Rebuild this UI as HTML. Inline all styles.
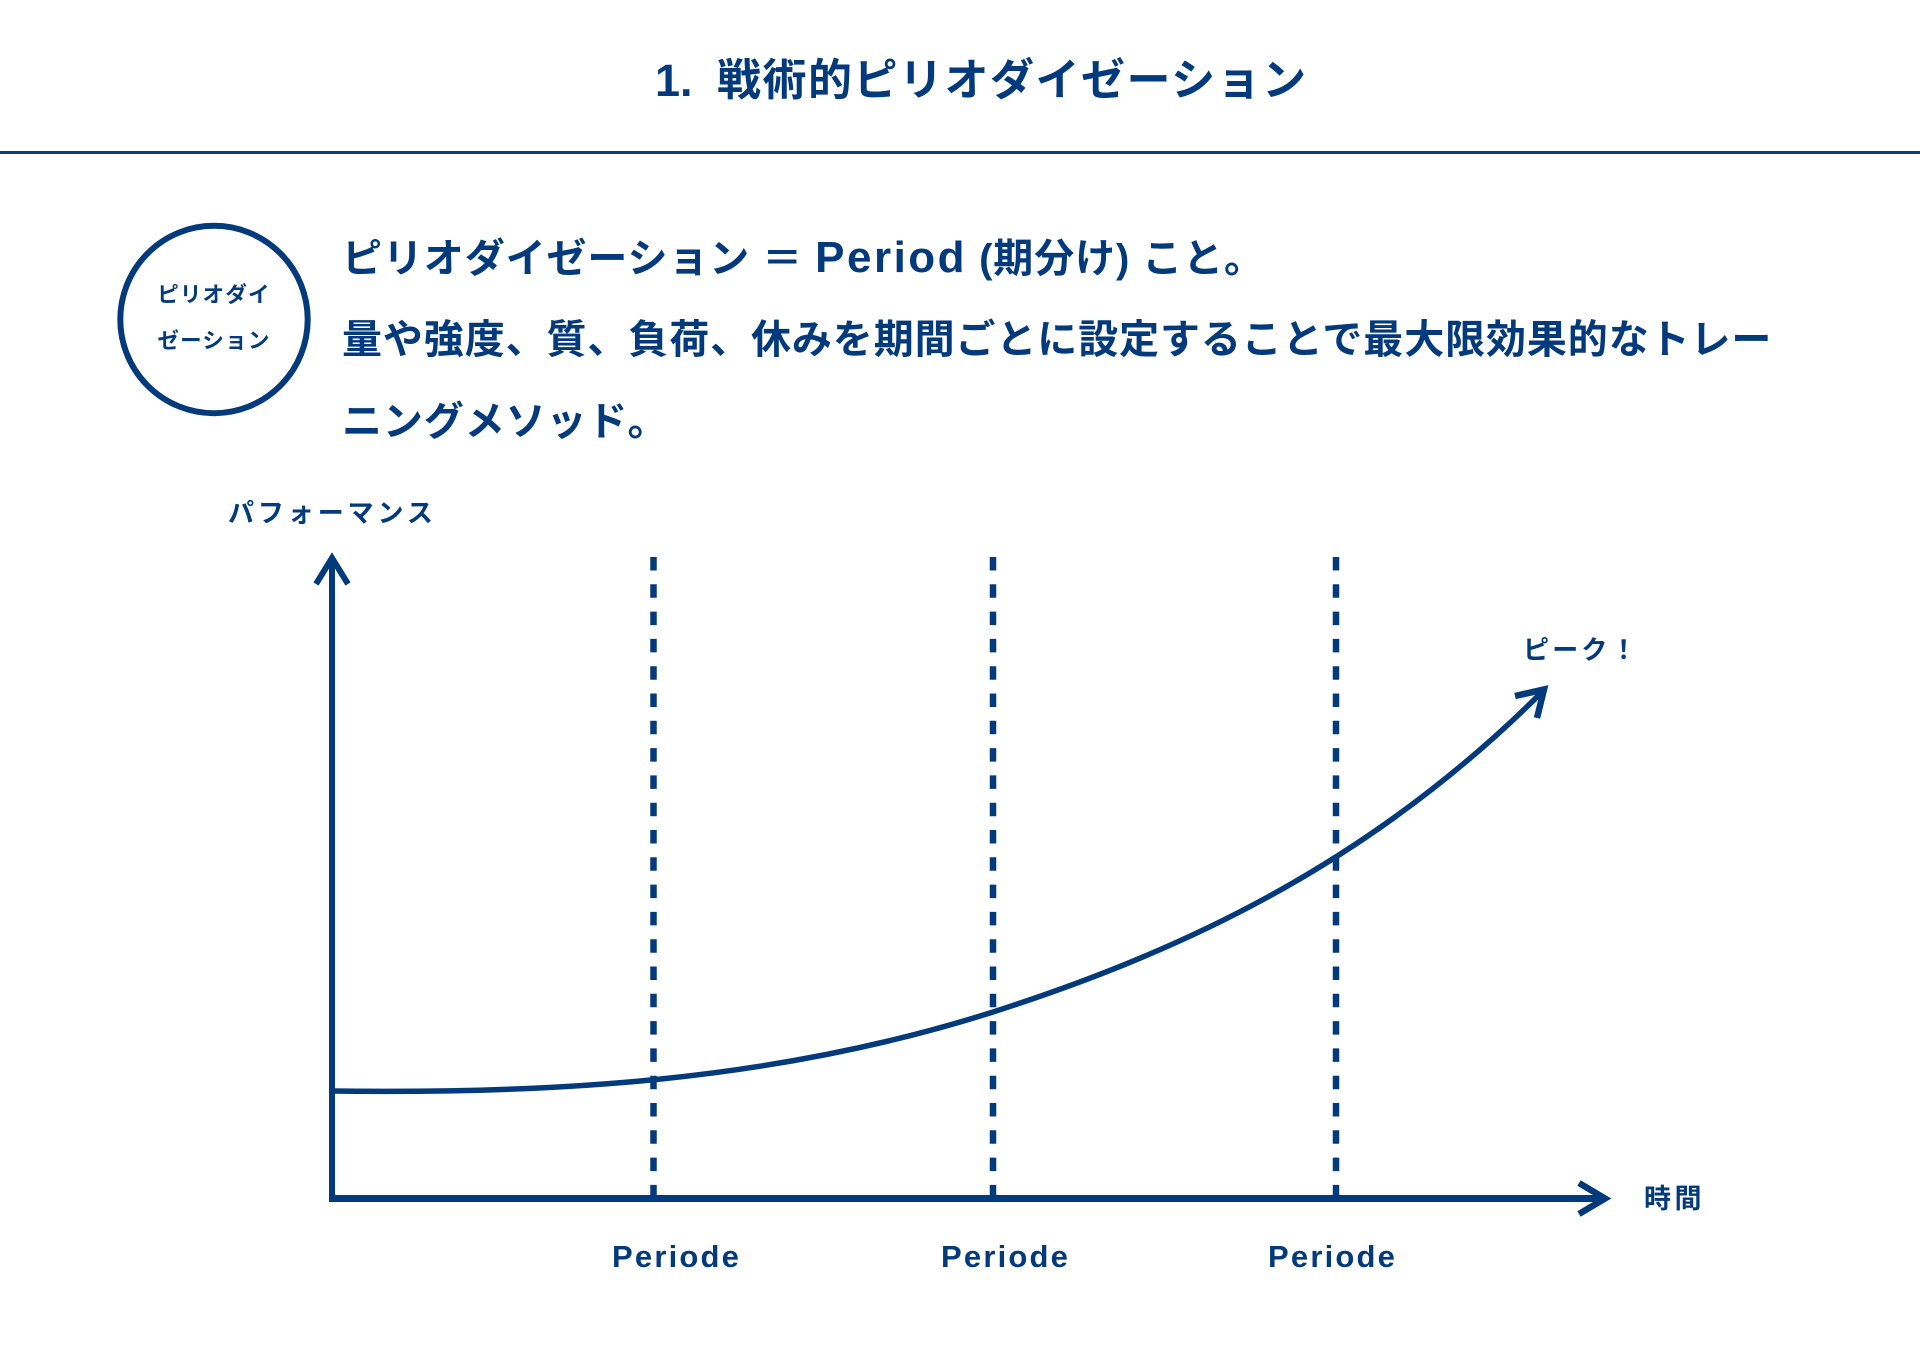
<!DOCTYPE html>
<html lang="ja">
<head>
<meta charset="utf-8">
<style>
  html, body { margin:0; padding:0; }
  body {
    width:1920px; height:1357px; position:relative; overflow:hidden; background:#ffffff;
    font-family:"Liberation Sans","Noto Sans CJK JP",sans-serif; font-weight:bold; color:#033a7c;
  }
  .a { position:absolute; white-space:nowrap; }
  svg { position:absolute; left:0; top:0; }
</style>
</head>
<body>

<!-- Title -->
<div class="a" style="left:655px; top:51px; font-size:45px; line-height:60px;">1.</div>
<div class="a" style="left:717px; top:51px; font-size:44px; line-height:60px; letter-spacing:1.5px;">戦術的ピリオダイゼーション</div>

<!-- rule -->
<div class="a" style="left:0; top:151px; width:1920px; height:3px; background:#0b3a7e;"></div>

<!-- circle text -->
<div class="a" style="left:114px; top:280px; width:200px; text-align:center; font-size:21.5px; line-height:30px; letter-spacing:1.2px;">ピリオダイ</div>
<div class="a" style="left:114px; top:326px; width:200px; text-align:center; font-size:21.5px; line-height:30px; letter-spacing:1.2px;">ゼーション</div>

<!-- Main text -->
<div class="a" style="left:342px; top:217px; font-size:40px; line-height:82px; letter-spacing:0.9px;">ピリオダイゼーション ＝ <span style="font-size:44px; letter-spacing:2.5px;">Period</span> (期分け) こと。</div>
<div class="a" style="left:342px; top:299px; font-size:40px; line-height:82px; letter-spacing:0.9px;">量や強度、質、負荷、休みを期間ごとに設定することで最大限効果的なトレー</div>
<div class="a" style="left:342px; top:381px; font-size:40px; line-height:82px; letter-spacing:0.9px;">ニングメソッド。</div>

<!-- chart labels -->
<div class="a" style="left:228px; top:498px; font-size:26px; line-height:30px; letter-spacing:3.9px;">パフォーマンス</div>
<div class="a" style="left:1523px; top:635px; font-size:26px; line-height:30px; letter-spacing:3.2px;">ピーク！</div>
<div class="a" style="left:1644px; top:1184px; font-size:27px; line-height:30px; letter-spacing:3.5px;">時間</div>

<div class="a" style="left:612px; top:1239px; font-size:31px; line-height:36px; letter-spacing:2.2px;">Periode</div>
<div class="a" style="left:941px; top:1239px; font-size:31px; line-height:36px; letter-spacing:2.2px;">Periode</div>
<div class="a" style="left:1268px; top:1239px; font-size:31px; line-height:36px; letter-spacing:2.2px;">Periode</div>

<svg width="1920" height="1357" viewBox="0 0 1920 1357">
  <g fill="none" stroke="#033a7c">
    <!-- circle -->
    <circle cx="214" cy="319.5" r="93.7" stroke-width="6"/>

    <!-- dashed lines -->
    <line x1="653.5" y1="557" x2="653.5" y2="1198" stroke-width="6.5" stroke-dasharray="13.5 13.8"/>
    <line x1="993" y1="557" x2="993" y2="1198" stroke-width="6.5" stroke-dasharray="13.5 13.8"/>
    <line x1="1336" y1="557" x2="1336" y2="1198" stroke-width="6.5" stroke-dasharray="13.5 13.8"/>

    <!-- axes -->
    <line x1="332" y1="560" x2="332" y2="1202" stroke-width="6"/>
    <line x1="329" y1="1198.5" x2="1604" y2="1198.5" stroke-width="7"/>
    <polyline points="316,584 332,558 348,584" stroke-width="6" stroke-linejoin="miter"/>
    <polyline points="1579,1183 1605,1198.5 1579,1214" stroke-width="6.5" stroke-linejoin="miter"/>

    <!-- curve -->
    <path d="M331,1091 C551,1094 773,1082 993,1012 C1173,954 1365,869 1543,691" stroke-width="5.5" stroke-linecap="butt"/>
    <polyline points="1515,696 1544,689.5 1537,718" stroke-width="6.5" stroke-linejoin="miter"/>
  </g>
</svg>

</body>
</html>
